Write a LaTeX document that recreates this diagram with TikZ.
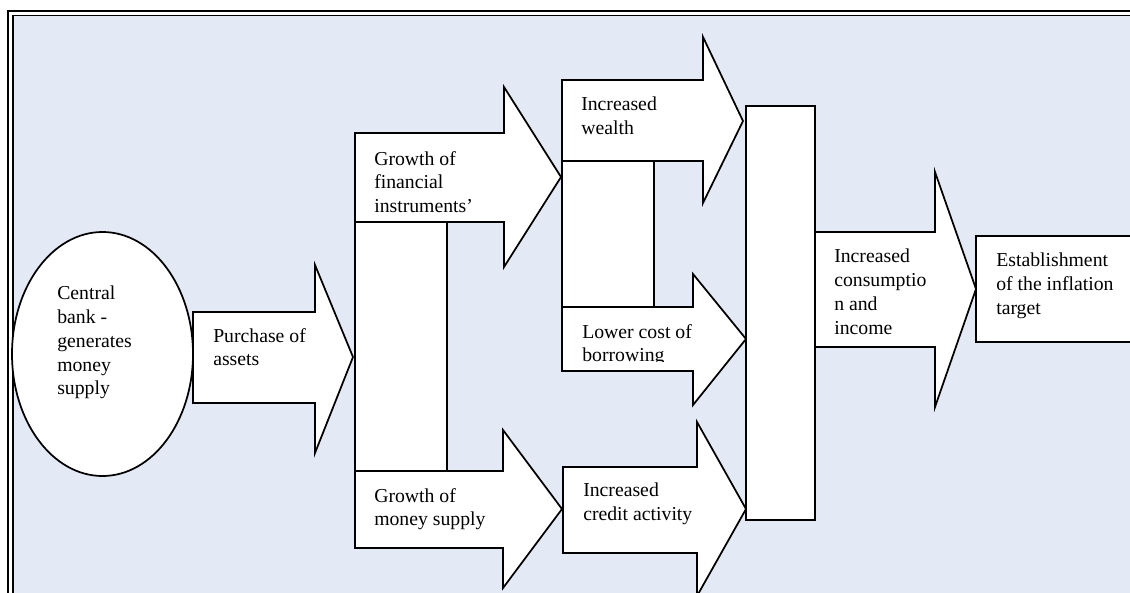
\documentclass[tikz,border=0pt]{standalone}
\usepackage{fontspec}
\setmainfont{Liberation Serif}
\definecolor{panelblue}{RGB}{228,234,245}

\begin{document}
\begin{tikzpicture}[x=0.75pt, y=-0.75pt,
    blockarrow/.style={draw, fill=white, line width=1.3pt, line join=miter},
    panel/.style={draw, fill=white, line width=1.3pt},
    lbl/.style={anchor=north west, inner sep=0pt, align=left,
                font=\fontsize{14.8}{17.8}\selectfont}]
    \clip (0,0) rectangle (1130,592);

    % Background frame
    \fill[white] (0,0) rectangle (1130,592);
    \fill[panelblue] (13,15.5) rectangle (1140,600);
    \draw[line width=1.9pt] (8,600) -- (8,11) -- (1140,11);
    \draw[line width=1.35pt] (13,600) -- (13,15.5) -- (1140,15.5);

    % Central bank
    \draw[panel] (102.5,354) ellipse [x radius=90.5, y radius=122];
    \node[lbl] (bank) at (57,286) {Central\\bank -\\generates\\money\\supply};

    % Purchase of assets
    \draw[blockarrow] (193,312) -- (315,312) -- (315,265) -- (353,357)
        -- (315,453) -- (315,403) -- (193,403) -- cycle;
    \node[lbl] (purchase) at (213,328) {Purchase of\\assets};

    % Connecting blocks behind the arrows
    \draw[panel] (355,210) rectangle (447,485);
    \draw[panel] (562,150) rectangle (654,315);

    % Second column
    \draw[blockarrow] (355,133) -- (504,133) -- (504,87) -- (561,177)
        -- (504,267) -- (504,222) -- (355,222) -- cycle;
    \node[lbl] (financial) at (374,151) {Growth of\\financial\\instruments’};

    \draw[blockarrow] (355,471) -- (503,471) -- (503,430) -- (562,509)
        -- (503,588) -- (503,548) -- (355,548) -- cycle;
    \node[lbl] (money) at (374,488) {Growth of\\money supply};

    % Third column
    \draw[blockarrow] (562,80) -- (703,80) -- (703,37) -- (743,121)
        -- (703,203) -- (703,161) -- (562,161) -- cycle;
    \node[lbl] (wealth) at (581,97) {Increased\\wealth};

    \draw[blockarrow] (562,307) -- (693,307) -- (693,274) -- (746,339)
        -- (693,405) -- (693,371) -- (562,371) -- cycle;
    \begin{scope}
        \clip (560,300) rectangle (700,361);
        \node[lbl] (borrowing) at (582,324) {Lower cost of\\borrowing};
    \end{scope}

    \draw[blockarrow] (563,467) -- (697,467) -- (697,422) -- (746,509)
        -- (697,596) -- (697,553) -- (563,553) -- cycle;
    \node[lbl] (credit) at (583,483) {Increased\\credit activity};

    % Collecting block
    \draw[panel] (746,106) rectangle (815,520);

    % Consumption and target
    \draw[blockarrow] (815,232) -- (935,232) -- (935,172) -- (976,289)
        -- (935,407) -- (935,347) -- (815,347) -- cycle;
    \node[lbl] (consumption) at (834,249) {Increased\\consumptio\\n and\\income};

    \draw[panel] (976,236) rectangle (1145,342);
    \node[lbl] (target) at (996,253) {Establishment\\of the inflation\\target};
\end{tikzpicture}
\end{document}
